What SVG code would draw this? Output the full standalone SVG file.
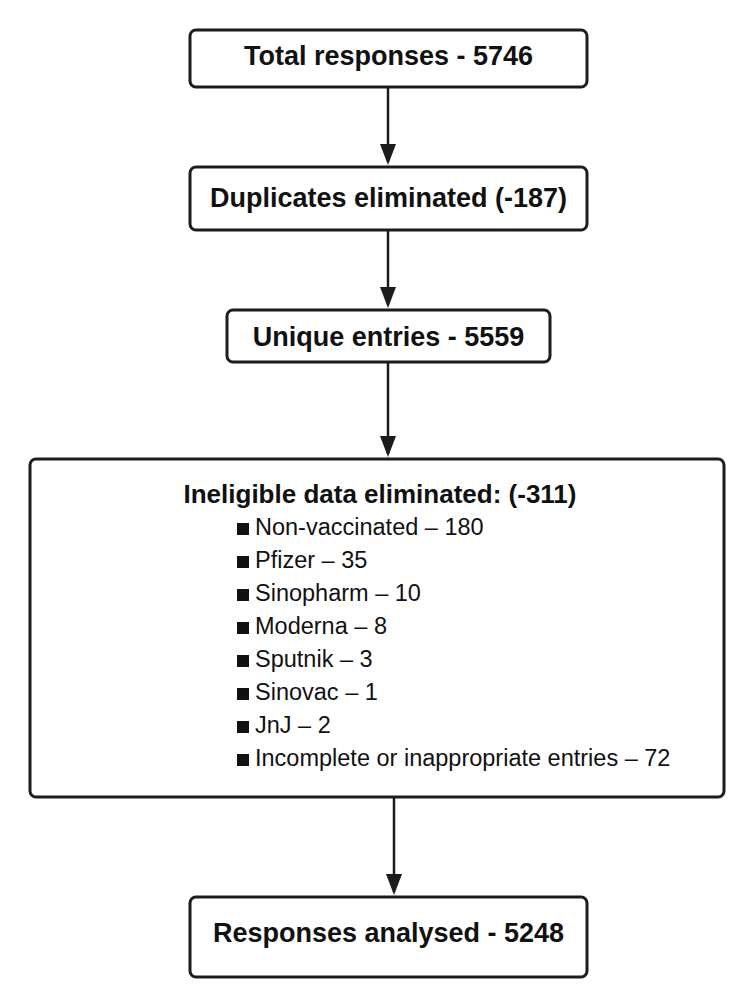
<svg xmlns="http://www.w3.org/2000/svg" width="750" height="1001" viewBox="0 0 750 1001">
<style>
.box{fill:#fff;stroke:#1c1c1c;stroke-width:3}
.t{font-family:"Liberation Sans",Arial,sans-serif;font-weight:bold;font-size:27px;fill:#111;text-anchor:middle}
.h{font-family:"Liberation Sans",Arial,sans-serif;font-weight:bold;font-size:26px;fill:#111;text-anchor:middle}
.i{font-family:"Liberation Sans",Arial,sans-serif;font-size:23.5px;fill:#111}
.b{fill:#111}
.c{stroke:#1c1c1c;stroke-width:2.5;fill:none}
</style>
<defs>
<marker id="ah" markerUnits="userSpaceOnUse" markerWidth="24" markerHeight="18" refX="18" refY="8" orient="auto">
<path d="M0,0 L21,8 L0,16 Z" fill="#1c1c1c"/>
</marker>
</defs>
<rect width="750" height="1001" fill="#fff"/>
<g id="connectors">
<path class="c" d="M388,88 V162" marker-end="url(#ah)"/>
<path class="c" d="M388,231 V305" marker-end="url(#ah)"/>
<path class="c" d="M388,363 V454" marker-end="url(#ah)"/>
<path class="c" d="M394,798 V892" marker-end="url(#ah)"/>
</g>
<g id="n1">
<rect class="box" x="190" y="30" width="397" height="57" rx="6"/>
<text class="t" x="388.5" y="65">Total responses - 5746</text>
</g>
<g id="n2">
<rect class="box" x="190" y="167" width="397" height="63" rx="6"/>
<text class="t" x="388.5" y="207">Duplicates eliminated (-187)</text>
</g>
<g id="n3">
<rect class="box" x="227" y="310" width="323" height="52" rx="6"/>
<text class="t" x="388.5" y="346">Unique entries - 5559</text>
</g>
<g id="n4">
<rect class="box" x="30" y="459" width="694" height="338" rx="6"/>
<text class="h" x="380" y="503">Ineligible data eliminated: (-311)</text>
<rect class="b" x="237" y="523" width="12" height="12"/>
<text class="i" x="255" y="535">Non-vaccinated – 180</text>
<rect class="b" x="237" y="556" width="12" height="12"/>
<text class="i" x="255" y="568">Pfizer – 35</text>
<rect class="b" x="237" y="589" width="12" height="12"/>
<text class="i" x="255" y="601">Sinopharm – 10</text>
<rect class="b" x="237" y="622" width="12" height="12"/>
<text class="i" x="255" y="634">Moderna – 8</text>
<rect class="b" x="237" y="655" width="12" height="12"/>
<text class="i" x="255" y="667">Sputnik – 3</text>
<rect class="b" x="237" y="688" width="12" height="12"/>
<text class="i" x="255" y="700">Sinovac – 1</text>
<rect class="b" x="237" y="721" width="12" height="12"/>
<text class="i" x="255" y="733">JnJ – 2</text>
<rect class="b" x="237" y="754" width="12" height="12"/>
<text class="i" x="255" y="766">Incomplete or inappropriate entries – 72</text>
</g>
<g id="n5">
<rect class="box" x="190" y="897" width="397" height="80" rx="6"/>
<text class="t" x="388.5" y="942">Responses analysed - 5248</text>
</g>
</svg>
